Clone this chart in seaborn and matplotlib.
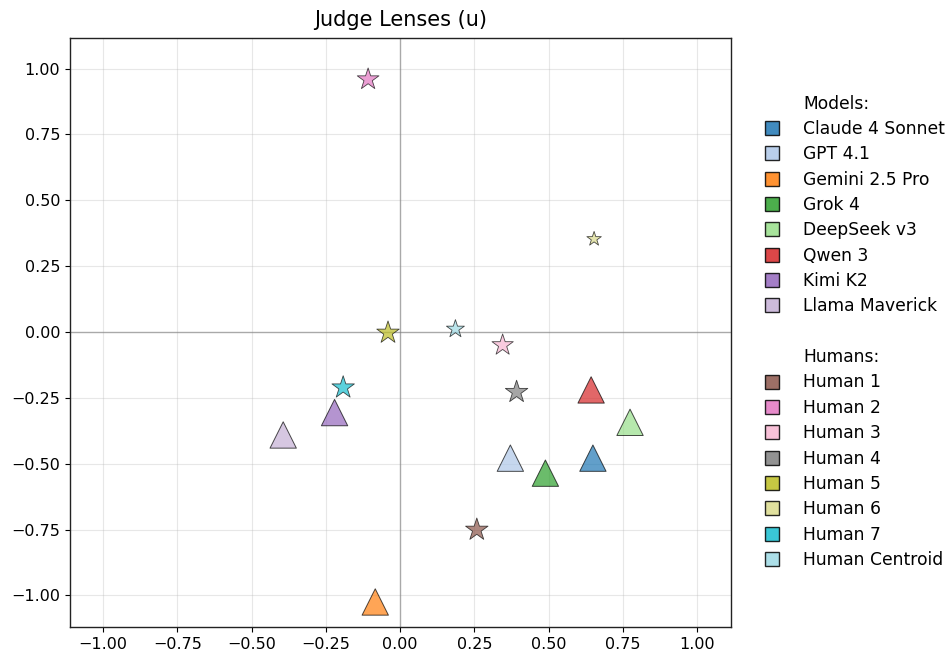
import pandas as pd
import matplotlib
matplotlib.use("Agg")
import matplotlib.pyplot as plt
from matplotlib.lines import Line2D
import seaborn as sns

# model positions (triangles)
model_names = ["Claude 4 Sonnet", "GPT 4.1", "Gemini 2.5 Pro", "Grok 4",
               "DeepSeek v3", "Qwen 3", "Kimi K2", "Llama Maverick"]
model_x = [0.649, 0.371, -0.084, 0.489, 0.774, 0.643, -0.221, -0.394]
model_y = [-0.479, -0.479, -1.025, -0.536, -0.343, -0.220, -0.306, -0.391]
model_colors = ["#1f77b4", "#aec7e8", "#ff7f0e", "#2ca02c",
                "#98df8a", "#d62728", "#9467bd", "#c5b0d5"]

# human positions (stars)
human_names = ["Human 1", "Human 2", "Human 3", "Human 4", "Human 5",
               "Human 6", "Human 7", "Human Centroid"]
human_x = [0.258, -0.108, 0.345, 0.392, -0.041, 0.653, -0.192, 0.186]
human_y = [-0.751, 0.959, -0.050, -0.228, -0.003, 0.353, -0.211, 0.011]
human_size = [290, 270, 260, 290, 290, 120, 290, 185]
human_colors = ["#8c564b", "#e377c2", "#f7b6d2", "#7f7f7f",
                "#bcbd22", "#dbdb8d", "#17becf", "#9edae5"]

ticks = [-1.0, -0.75, -0.5, -0.25, 0.0, 0.25, 0.5, 0.75, 1.0]


def fmt(t):
    # matplotlib style minus sign
    return ("%.2f" % t).replace("-", "\u2212") if t != 0 else "0.00"


def make_legend_handles():
    """
    Builds the grouped legend: header, model squares, blank, header, humans
    """
    blank = Line2D([], [], linestyle="none", marker=None)
    handles, labels = [blank], ["Models:"]
    for name, col in zip(model_names, model_colors):
        handles.append(Line2D([], [], linestyle="none", marker="s", markersize=10,
                              markerfacecolor=col, markeredgecolor="black",
                              alpha=0.85))
        labels.append(name)
    handles += [blank, blank]
    labels += ["", "Humans:"]
    for name, col in zip(human_names, human_colors):
        handles.append(Line2D([], [], linestyle="none", marker="s", markersize=10,
                              markerfacecolor=col, markeredgecolor="black",
                              alpha=0.85))
        labels.append(name)
    return handles, labels


sns.set_style("ticks", {"text.color": "black", "xtick.color": "black",
                        "ytick.color": "black", "axes.labelcolor": "black"})
plt.rcParams["font.family"] = ["DejaVu Sans"]

models = pd.DataFrame({"name": model_names, "x": model_x, "y": model_y})
humans = pd.DataFrame({"name": human_names, "x": human_x, "y": human_y,
                       "s": human_size})

fig = plt.figure(figsize=(9.47, 6.53), dpi=100)
ax = fig.add_axes([0.0739, 0.0398, 0.698, 0.902])

ax.axhline(0, color="gray", alpha=0.6, linewidth=1, zorder=1)
ax.axvline(0, color="gray", alpha=0.6, linewidth=1, zorder=1)

sns.scatterplot(data=models, x="x", y="y", hue="name",
                palette=dict(zip(model_names, model_colors)),
                marker="^", s=360, alpha=0.7, edgecolor="black",
                linewidth=0.7, legend=False, ax=ax, zorder=3)
sns.scatterplot(data=humans, x="x", y="y", hue="name", size="s",
                sizes={v: v for v in human_size},
                palette=dict(zip(human_names, human_colors)),
                marker="*", alpha=0.7, edgecolor="black",
                linewidth=0.6, legend=False, ax=ax, zorder=4)

ax.set_xlim(-1.112, 1.114)
ax.set_ylim(-1.12, 1.116)
ax.set_xticks(ticks)
ax.set_yticks(ticks)
ax.set_xticklabels([fmt(t) for t in ticks])
ax.set_yticklabels([fmt(t) for t in ticks])
ax.tick_params(labelsize=11.5, length=3.5, width=0.8, color="black")
ax.grid(True, alpha=0.35, color="#bbbbbb", linewidth=0.8)
for sp in ax.spines.values():
    sp.set_color("#222222")
    sp.set_linewidth(1.0)
ax.set_xlabel("")
ax.set_ylabel("")
ax.set_title("Judge Lenses (u)", fontsize=15, pad=9)

handles, labels = make_legend_handles()
fig.legend(handles, labels, loc="upper left", bbox_to_anchor=(0.8025, 0.855),
           frameon=False, fontsize=12.3, labelspacing=0.43, handletextpad=1.12,
           handlelength=1.4, borderpad=0, borderaxespad=0)

fig.savefig("out.png", dpi=100)
